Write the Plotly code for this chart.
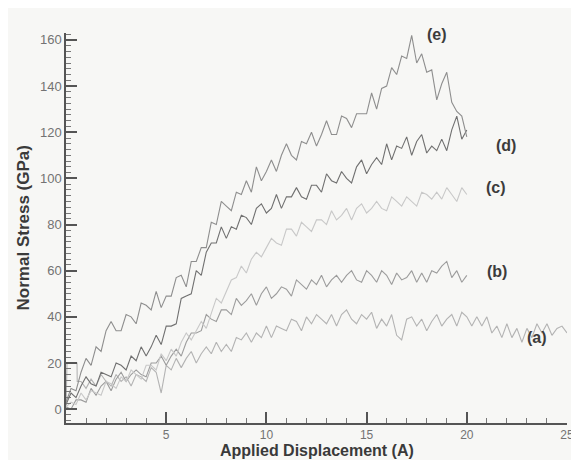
import plotly.graph_objects as go

# Applied displacement grid (A) for curves (b)-(e)
disp = [round(i * 0.25, 2) for i in range(81)]  # 0 .. 20

stress_e = [3, 9, 8, 16, 22, 19, 27, 25, 34, 38, 34, 34, 41, 40, 37, 46, 45, 43, 51, 44,
            49, 49, 57, 58, 53, 64, 64, 70, 70, 81, 80, 90, 88, 86, 94, 93, 99, 94, 105, 99,
            103, 108, 103, 110, 115, 110, 108, 116, 115, 120, 114, 119, 125, 119, 119, 127, 126, 122, 128, 128,
            128, 137, 130, 139, 140, 148, 145, 153, 152, 162, 150, 154, 146, 147, 134, 141, 146, 133, 129, 127,
            118]

stress_d = [2, 7, 5, 10, 14, 11, 10, 16, 15, 14, 20, 19, 17, 23, 21, 27, 23, 27, 32, 28,
            36, 36, 37, 48, 49, 50, 60, 58, 68, 72, 72, 79, 74, 79, 78, 84, 83, 80, 87, 89,
            85, 87, 93, 87, 92, 92, 96, 92, 91, 97, 97, 94, 102, 99, 98, 103, 100, 98, 105, 108,
            102, 106, 109, 106, 115, 108, 114, 113, 118, 110, 116, 119, 111, 114, 112, 117, 112, 121, 127, 117,
            121]

stress_c = [1, 3, 2, 7, 4, 8, 7, 6, 12, 11, 9, 14, 12, 17, 15, 13, 19, 19, 17, 24,
            21, 26, 23, 29, 33, 30, 34, 38, 35, 42, 48, 46, 51, 56, 57, 62, 59, 65, 68, 66,
            70, 74, 72, 71, 78, 78, 75, 81, 79, 77, 82, 82, 80, 86, 82, 84, 87, 82, 87, 89,
            85, 87, 90, 87, 86, 92, 90, 88, 92, 90, 88, 94, 93, 91, 94, 91, 96, 93, 90, 96,
            93]

stress_b = [1, 0, 4, 4, 3, 9, 6, 10, 12, 8, 13, 16, 12, 15, 17, 15, 14, 20, 20, 23,
            19, 23, 26, 23, 29, 33, 33, 34, 41, 39, 38, 43, 43, 41, 48, 45, 47, 50, 45, 50,
            53, 48, 50, 53, 52, 49, 56, 54, 52, 56, 54, 58, 53, 56, 58, 55, 58, 60, 56, 55,
            60, 58, 55, 60, 58, 54, 59, 56, 57, 60, 55, 59, 55, 60, 59, 62, 64, 57, 60, 55,
            58]

# Curve (a) runs to 25 A and starts with a small step
disp_a = [0, 0.05, 0.55, 0.56] + [round(0.75 + i * 0.25, 2) for i in range(98)]
stress_a = [0, 20, 20, 12,
            12, 9, 13, 10, 15, 12, 10, 15, 12, 14, 10, 15, 14, 12, 18, 16, 7, 19, 17, 22,
            18, 22, 25, 20, 24, 27, 24, 29, 25, 28, 25, 31, 30, 33, 29, 33, 31, 36, 31, 36,
            35, 34, 39, 38, 34, 40, 37, 41, 39, 37, 41, 36, 41, 43, 39, 37, 41, 39, 42, 35,
            39, 36, 41, 32, 30, 39, 40, 36, 39, 34, 38, 41, 36, 39, 41, 36, 42, 40, 36, 40,
            36, 40, 33, 36, 31, 37, 31, 35, 29, 35, 31, 37, 33, 37, 32, 35, 36, 33]

labels = ["(a)", "(b)", "(c)", "(d)", "(e)"]
label_x = [23.5, 21.5, 21.45, 21.95, 18.5]
label_y = [26.5, 59.5, 96, 118.8, 167]

y_ticks = [0, 20, 40, 60, 80, 100, 120, 140, 160]
x_ticks = [5, 10, 15, 20, 25]

series = [
    (disp_a, stress_a, "#b3b3b3"),
    (disp, stress_b, "#9c9c9c"),
    (disp, stress_c, "#c8c8c8"),
    (disp, stress_d, "#707070"),
    (disp, stress_e, "#8e8e8e"),
]

fig = go.Figure()
for xs, ys, col in series:
    fig.add_trace(go.Scatter(x=xs, y=ys, mode="lines",
                             line=dict(color=col, width=1.1),
                             showlegend=False, hoverinfo="skip"))

Y0, Y1 = -6, 163
for t, lx, ly in zip(labels, label_x, label_y):
    fig.add_annotation(x=lx, y=(ly - Y0) / (Y1 - Y0), xref="x", yref="paper",
                       text="<b>%s</b>" % t, showarrow=False,
                       font=dict(family="Liberation Sans, Arial", size=16, color="#3c3c3c"))

axis_font = dict(family="Liberation Sans, Arial", size=13, color="#737373")
title_font = dict(family="Liberation Sans, Arial", size=16, color="#3a3a3a")

fig.add_annotation(text="<b>Applied Displacement (A)</b>", x=0.5, y=-0.071,
                   xref="paper", yref="paper", showarrow=False, yanchor="middle",
                   font=title_font)
fig.add_annotation(text="<b>Normal Stress (GPa)</b>", x=-0.085, y=0.5,
                   xref="paper", yref="paper", showarrow=False, textangle=-90,
                   xanchor="center", yanchor="middle",
                   font=dict(family="Liberation Sans, Arial", size=17, color="#3a3a3a"))

# page body has an 8px margin, so the figure is sized to fit the window
fig.update_layout(
    width=571, height=452,
    margin=dict(l=58, r=5, t=25, b=37),
    paper_bgcolor="#f7f7f5", plot_bgcolor="#f7f7f5",
    xaxis=dict(range=[0, 25], tickvals=x_ticks, ticktext=[str(v) for v in x_ticks],
               ticks="inside", ticklen=11, tickwidth=1.5, tickcolor="#555555",
               minor=dict(dtick=1, tick0=0, ticks="inside", ticklen=5, tickwidth=1, tickcolor="#777777"),
               showline=True, linecolor="#555555", linewidth=1.5,
               showgrid=False, zeroline=False,
               tickfont=dict(family="Liberation Sans, Arial", size=12, color="#737373"),
               ticklabeloverflow="allow", ticklabelstandoff=0),
    yaxis=dict(range=[Y0, Y1], tickvals=y_ticks, ticktext=[str(v) for v in y_ticks],
               ticks="inside", ticklen=11, tickwidth=1.5, tickcolor="#555555",
               minor=dict(dtick=2.5, tick0=0, ticks="inside", ticklen=5, tickwidth=1, tickcolor="#777777"),
               showline=True, linecolor="#555555", linewidth=1.5,
               showgrid=False, zeroline=False, tickfont=axis_font),
)

fig.write_html("out.html")
